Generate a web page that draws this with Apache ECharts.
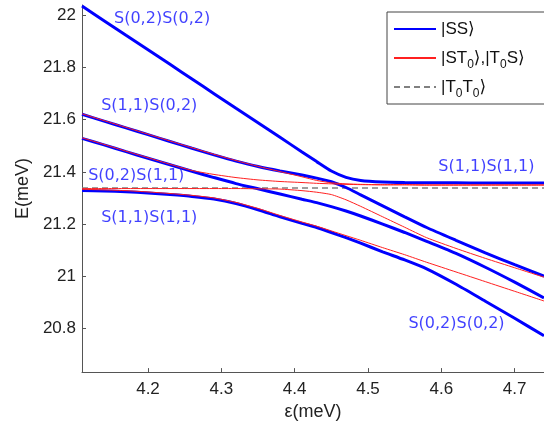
<!DOCTYPE html>
<html><head><meta charset="utf-8">
<script src="https://cdn.jsdelivr.net/npm/echarts@6/dist/echarts.min.js"></script>
<style>html,body{margin:0;padding:0;background:#fff}#c{width:544px;height:426px}</style>
</head><body><div id="c"></div>
<script>
// epsilon grid (meV)
const eps = [4.11,4.14,4.17,4.20,4.23,4.26,4.29,4.32,4.35,4.38,4.41,4.43,4.45,4.47,4.49,4.52,4.55,4.58,4.62,4.66,4.70,4.74];
// |SS> branches (blue)
const ss1 = [22.034,21.978,21.922,21.867,21.811,21.755,21.699,21.643,21.588,21.532,21.476,21.439,21.403,21.379,21.367,21.361,21.359,21.358,21.358,21.357,21.357,21.357];
const ss2 = [21.620,21.594,21.568,21.542,21.516,21.490,21.465,21.441,21.420,21.403,21.388,21.376,21.362,21.340,21.312,21.270,21.228,21.187,21.138,21.090,21.045,21.001];
const ss3 = [21.528,21.503,21.477,21.452,21.427,21.402,21.378,21.355,21.335,21.315,21.295,21.282,21.267,21.250,21.231,21.200,21.168,21.134,21.088,21.035,20.978,20.918];
const ss4 = [21.329,21.327,21.324,21.319,21.313,21.306,21.296,21.279,21.255,21.228,21.203,21.187,21.168,21.148,21.127,21.094,21.063,21.029,20.970,20.905,20.840,20.773];
// |ST0>,|T0S> branches (red)
const st1 = [21.622,21.596,21.570,21.544,21.518,21.492,21.467,21.443,21.421,21.401,21.381,21.367,21.358,21.354,21.352,21.351,21.351,21.350,21.350,21.350,21.350,21.350];
const st2 = [21.530,21.505,21.479,21.454,21.429,21.405,21.390,21.378,21.369,21.363,21.359,21.356,21.354,21.352,21.351,21.350,21.350,21.349,21.349,21.349,21.349,21.349];
const st3 = [21.336,21.336,21.336,21.336,21.336,21.336,21.336,21.336,21.335,21.334,21.328,21.322,21.313,21.293,21.268,21.228,21.188,21.148,21.107,21.069,21.033,20.997];
const st4 = [21.333,21.331,21.328,21.323,21.317,21.310,21.300,21.283,21.260,21.233,21.208,21.192,21.174,21.156,21.138,21.110,21.083,21.054,21.017,20.980,20.943,20.906];
// |T0T0> (grey dashed)
const tt = [21.338,21.338,21.338,21.338,21.338,21.338,21.338,21.338,21.338,21.338,21.338,21.338,21.338,21.338,21.338,21.338,21.338,21.338,21.338,21.338,21.338,21.338];
// tick values
const xTicks = [4.2,4.3,4.4,4.5,4.6,4.7];
const yTicks = [20.8,21.0,21.2,21.4,21.6,21.8,22.0];
// curve labels: text, eps, E
const labTxt = ['S(0,2)S(0,2)','S(1,1)S(0,2)','S(0,2)S(1,1)','S(1,1)S(1,1)','S(1,1)S(1,1)','S(0,2)S(0,2)'];
const labEps = [4.1537,4.1361,4.1184,4.1361,4.5959,4.5551];
const labE   = [21.985,21.654,21.385,21.225,21.419,20.819];

const zip = a => eps.map((x,i)=>[x,a[i]]);
const NSS='SS', NST='ST', NTT='TT';
const blue = v => ({name:NSS,type:'line',data:zip(v),symbol:'none',smooth:0.2,lineStyle:{color:'#0000ff',width:3},itemStyle:{color:'#0000ff'},z:2});
const red = v => ({name:NST,type:'line',data:zip(v),symbol:'none',smooth:0.2,lineStyle:{color:'#ff2020',width:1},itemStyle:{color:'#ff2020'},z:3});

const chart = echarts.init(document.getElementById('c'));
chart.setOption({
  animation:false,
  grid:{left:82,top:5,right:0,bottom:51},
  xAxis:{type:'value',min:4.11,max:4.74,
    name:'ε(meV)',nameLocation:'middle',nameGap:28,
    nameTextStyle:{fontFamily:'Liberation Sans',fontSize:18,color:'#222'},
    axisLine:{lineStyle:{color:'#555',width:1}},
    axisTick:{inside:true,length:4,customValues:xTicks,lineStyle:{color:'#555'}},
    axisLabel:{customValues:xTicks,fontFamily:'Liberation Sans',fontSize:17,color:'#222',margin:9,formatter:v=>String(+v.toFixed(1))},
    splitLine:{show:false}},
  yAxis:{type:'value',min:20.634,max:22.038,
    name:'E(meV)',nameLocation:'middle',nameGap:50,nameRotate:90,
    nameTextStyle:{fontFamily:'Liberation Sans',fontSize:18,color:'#222'},
    axisLine:{show:true,lineStyle:{color:'#555',width:1}},
    axisTick:{show:true,inside:true,length:4,customValues:yTicks,lineStyle:{color:'#555'}},
    axisLabel:{customValues:yTicks,fontFamily:'Liberation Sans',fontSize:17,color:'#222',margin:6,formatter:v=>String(+v.toFixed(1))},
    splitLine:{show:false}},
  legend:{data:[NSS,NST,NTT],orient:'vertical',left:387,top:12,
    backgroundColor:'#fff',borderColor:'#444',borderWidth:1,padding:[4,40,4,6],
    itemWidth:42,itemHeight:14,itemGap:3,
    itemStyle:{color:'rgba(0,0,0,0)',borderColor:'rgba(0,0,0,0)',borderWidth:0,opacity:0},
    formatter:n=>n===NSS?'|SS⟩':(n===NST?'|ST{s|0}⟩,|T{s|0}S⟩':'|T{s|0}T{s|0}⟩'),
    textStyle:{fontFamily:'Liberation Sans, DejaVu Sans',fontSize:17,color:'#111',lineHeight:26,
      rich:{s:{fontFamily:'Liberation Sans',fontSize:12,verticalAlign:'bottom',lineHeight:14,color:'#111'}}}},
  series:[
    blue(ss1),blue(ss2),blue(ss3),blue(ss4),
    red(st1),red(st2),red(st3),red(st4),
    {name:NTT,type:'line',data:zip(tt),symbol:'none',lineStyle:{color:'#808080',width:1.5,type:[6,4]},itemStyle:{color:'#808080'},z:1},
    {type:'scatter',data:labEps.map((x,i)=>[x,labE[i]]),symbolSize:0,silent:true,z:5,
      label:{show:true,position:[0,0],align:'left',verticalAlign:'middle',
        formatter:p=>labTxt[p.dataIndex],fontFamily:'DejaVu Sans',fontSize:16,color:'#1010ff'}}
  ]
});
</script></body></html>
